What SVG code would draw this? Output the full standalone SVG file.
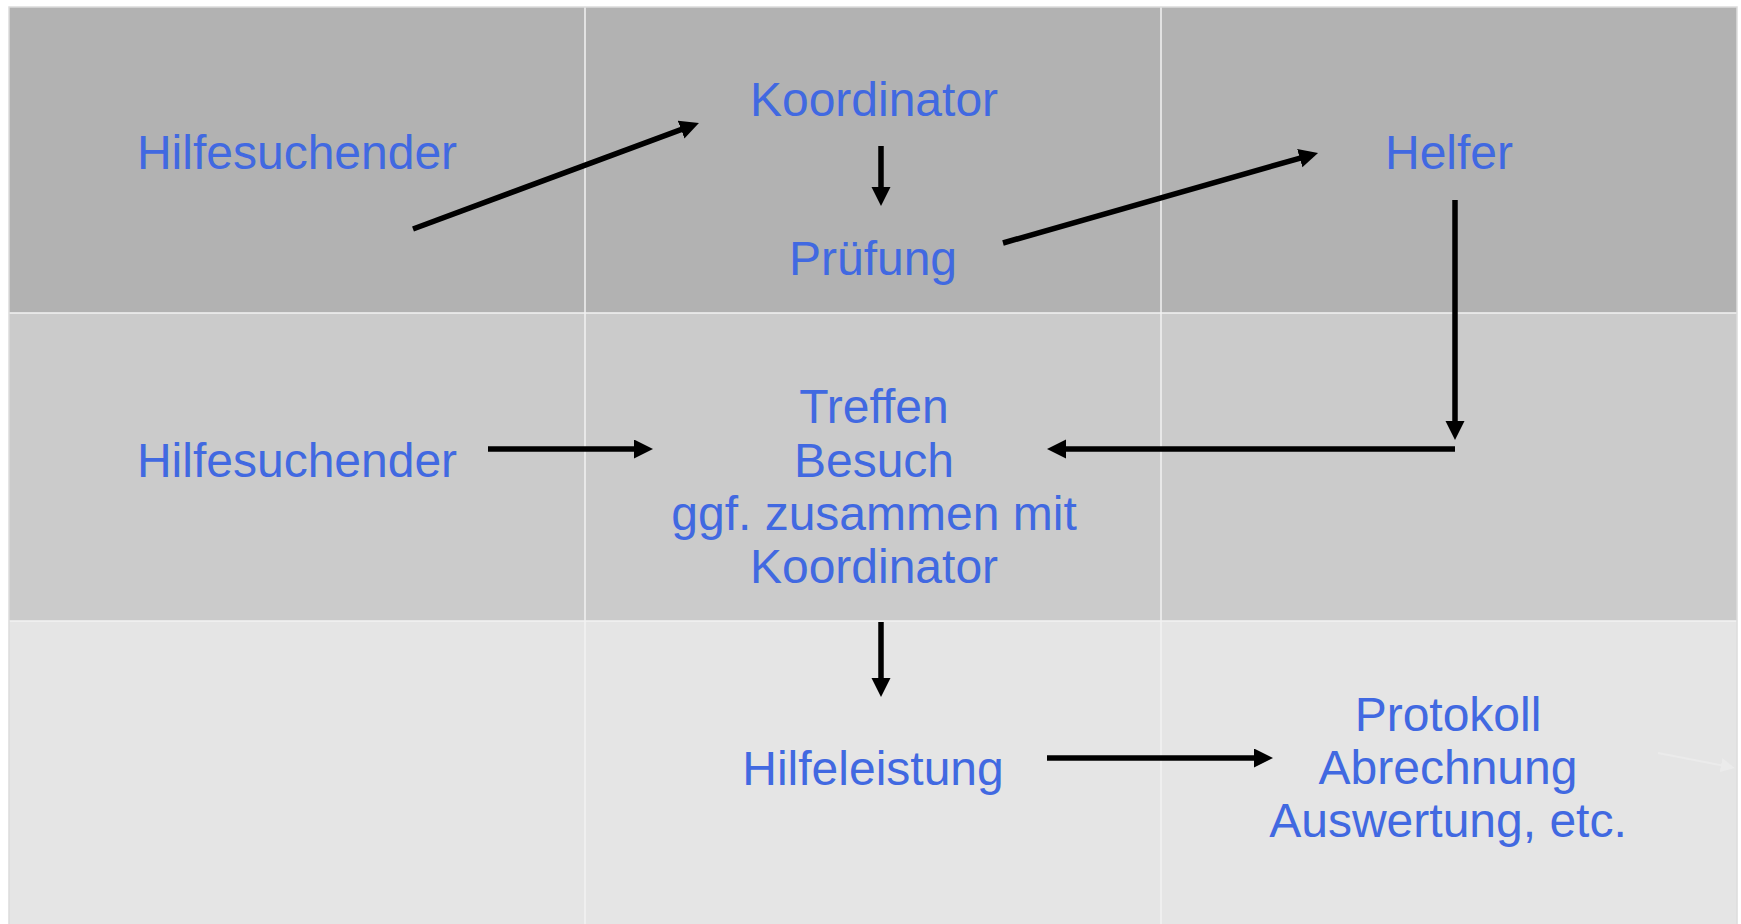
<svg xmlns="http://www.w3.org/2000/svg" width="1741" height="924" viewBox="0 0 1741 924">
<style>
.t{font-family:"Liberation Sans",Arial,sans-serif;font-size:48px;fill:#4169E1;text-anchor:middle}
.c{stroke:#000;stroke-width:5.5;fill:none;marker-end:url(#ah)}
.g{stroke:#f2f2f2;stroke-width:1.5}
</style>
<defs>
<marker id="ah" markerUnits="userSpaceOnUse" markerWidth="20" markerHeight="20" refX="7" refY="9.5" orient="auto"><path d="M0,0 L19,9.5 L0,19 z" fill="#000"/></marker>
<marker id="ah2" markerUnits="userSpaceOnUse" markerWidth="14" markerHeight="14" refX="4" refY="7" orient="auto"><path d="M0,0 L14,7 L0,14 z" fill="#ebebeb"/></marker>
</defs>
<rect width="1741" height="924" fill="#fff"/>
<g id="table">
<rect x="9" y="7" width="1728" height="306" fill="#b2b2b2"/>
<rect x="9" y="313" width="1728" height="308" fill="#cbcbcb"/>
<rect x="9" y="621" width="1728" height="303" fill="#e5e5e5"/>
<line class="g" x1="585" y1="7" x2="585" y2="924"/>
<line class="g" x1="1161" y1="7" x2="1161" y2="924"/>
<line class="g" x1="9" y1="313" x2="1737" y2="313"/>
<line class="g" x1="9" y1="621" x2="1737" y2="621"/>
<rect x="9" y="7" width="1728" height="920" fill="none" stroke="#dcdcdc" stroke-width="1.5"/>
</g>
<g id="n-hilfesuchender1"><text class="t" x="297" y="169">Hilfesuchender</text></g>
<g id="n-koordinator"><text class="t" x="874" y="116">Koordinator</text></g>
<g id="n-pruefung"><text class="t" x="873" y="275">Prüfung</text></g>
<g id="n-helfer"><text class="t" x="1449" y="169">Helfer</text></g>
<g id="n-hilfesuchender2"><text class="t" x="297" y="477">Hilfesuchender</text></g>
<g id="n-treffen"><text class="t" x="874" y="423">Treffen</text><text class="t" x="874" y="477">Besuch</text><text class="t" x="874" y="530">ggf. zusammen mit</text><text class="t" x="874" y="583">Koordinator</text></g>
<g id="n-hilfeleistung"><text class="t" x="873" y="785">Hilfeleistung</text></g>
<g id="n-protokoll"><text class="t" x="1448" y="731">Protokoll</text><text class="t" x="1448" y="784">Abrechnung</text><text class="t" x="1448" y="837">Auswertung, etc.</text></g>
<g id="connectors">
<path class="c" d="M413,229 L687.7,127.2"/>
<path class="c" d="M881,146 L881,194"/>
<path class="c" d="M1003,243 L1306.5,156.3"/>
<path class="c" d="M1455,200 L1455,428"/>
<path class="c" d="M1455,449 L1059,449"/>
<path class="c" d="M488,449 L641,449"/>
<path class="c" d="M881,622 L881,685"/>
<path class="c" d="M1047,758 L1261,758"/>
<path d="M1658,753 L1725,766" stroke="#ebebeb" stroke-width="2" fill="none" marker-end="url(#ah2)"/>
</g>
</svg>
